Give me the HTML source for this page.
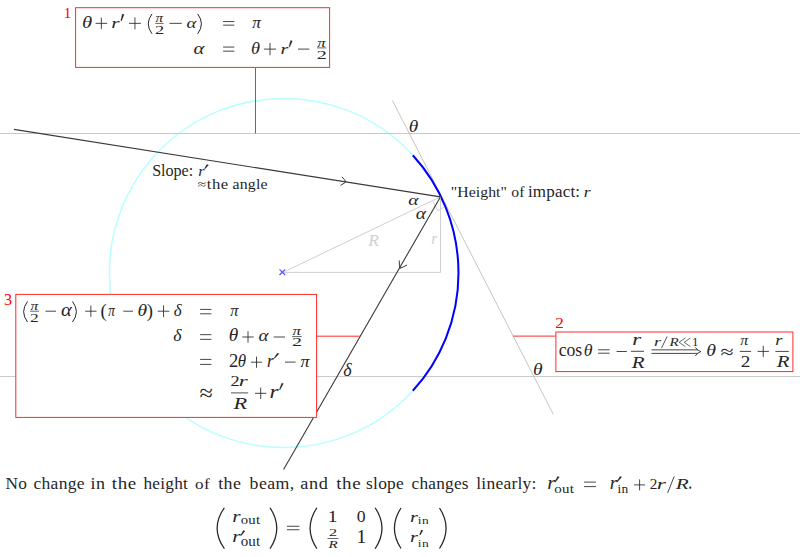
<!DOCTYPE html>
<html><head><meta charset="utf-8"><style>
html,body{margin:0;padding:0;background:#fff;width:800px;height:557px;overflow:hidden}
svg{display:block}
text{font-family:"Liberation Serif",serif;font-kerning:none}
</style></head><body>
<svg width="800" height="557" viewBox="0 0 800 557">
<circle cx="283.9" cy="273.0" r="174.6" fill="none" stroke="#b8ffff" stroke-width="1.5"/>
<line x1="0.00" y1="133.50" x2="800.00" y2="133.50" stroke="#cacaca" stroke-width="1" />
<line x1="0.00" y1="376.50" x2="800.00" y2="376.50" stroke="#cacaca" stroke-width="1" />
<line x1="392.30" y1="100.30" x2="553.40" y2="414.50" stroke="#bdbdbd" stroke-width="0.9" />
<path d="M412.83,155.27 A174.6,174.6 0 0 1 412.83,390.73" fill="none" stroke="#0000ff" stroke-width="2.0"/>
<line x1="283.00" y1="272.40" x2="440.40" y2="196.90" stroke="#c8c8c8" stroke-width="0.9" />
<line x1="440.50" y1="196.90" x2="440.50" y2="272.40" stroke="#c8c8c8" stroke-width="0.9" />
<line x1="283.00" y1="272.40" x2="440.50" y2="272.40" stroke="#c8c8c8" stroke-width="0.9" />
<polyline points="433.1,201.6 437.7,210.7 444.1,207.2" fill="none" stroke="#c8c8c8" stroke-width="0.8"/>
<line x1="279.50" y1="269.40" x2="285.10" y2="275.00" stroke="#5050ff" stroke-width="1.2" />
<line x1="279.50" y1="275.00" x2="285.10" y2="269.40" stroke="#5050ff" stroke-width="1.2" />
<line x1="14.00" y1="129.40" x2="440.40" y2="196.90" stroke="#3a3a3a" stroke-width="1.1" />
<line x1="440.40" y1="196.90" x2="283.60" y2="469.40" stroke="#3a3a3a" stroke-width="1.1" />
<path d="M340.58,185.33 Q344.66,183.14 345.8,181.8 Q345.13,180.17 341.93,176.83" fill="none" stroke="#222" stroke-width="0.9"/>
<path d="M399.24,260.50 Q399.26,266.32 400.0,268.2 Q401.99,267.89 407.04,264.98" fill="none" stroke="#222" stroke-width="0.9"/>
<rect x="75.6" y="7.7" width="254.00000000000003" height="59.7" fill="#fff" stroke="#ff2a2a" stroke-width="1"/>
<line x1="255.50" y1="67.40" x2="255.50" y2="133.50" stroke="#ff2a2a" stroke-width="1" />
<rect x="15.8" y="294.4" width="300.8" height="123.0" fill="#fff" stroke="#ff2a2a" stroke-width="1"/>
<line x1="316.80" y1="336.20" x2="359.90" y2="336.20" stroke="#ff2a2a" stroke-width="1" />
<rect x="555.9" y="332.0" width="237.0" height="39.60000000000002" fill="#fff" stroke="#ff2a2a" stroke-width="1"/>
<line x1="513.20" y1="336.10" x2="555.90" y2="336.10" stroke="#ff2a2a" stroke-width="1" />
<text transform="translate(63.60,17.50) scale(1.1054,1)" font-size="14.39" fill="#ff0000">1</text>
<text transform="translate(4.12,305.30) scale(0.9852,1)" font-size="16.46" fill="#ff0000">3</text>
<text transform="translate(555.14,327.60) scale(1.1629,1)" font-size="14.80" fill="#ff0000">2</text>
<text transform="translate(81.89,27.60) scale(1.2358,1)" font-size="16.80" font-style="italic" fill="#262626">θ</text>
<path d="M95.60,23.35H107.10M101.35,17.60V29.10" stroke="#262626" stroke-width="0.85" fill="none"/>
<text transform="translate(111.24,27.60) scale(1.4158,1)" font-size="15.07" font-style="italic" fill="#262626">r</text>
<path d="M122.40,14.10 L124.10,14.50 L121.45,20.90 L120.75,20.60 Z" fill="#262626" stroke="#262626" stroke-width="0.3"/>
<path d="M129.00,23.35H140.90M134.95,17.40V29.30" stroke="#262626" stroke-width="0.85" fill="none"/>
<path d="M152.00,13.90 Q144.56,23.85 152.00,33.80" fill="none" stroke="#262626" stroke-width="1.0"/>
<text transform="translate(155.42,22.30) scale(1.1852,1)" font-size="12.85" font-style="italic" fill="#262626">π</text>
<path d="M155.30,23.40H163.60" stroke="#262626" stroke-width="0.7" fill="none"/>
<text transform="translate(154.99,33.60) scale(1.6082,1)" font-size="11.48" fill="#262626">2</text>
<path d="M169.50,23.35H181.75" stroke="#262626" stroke-width="0.85" fill="none"/>
<text transform="translate(186.44,27.60) scale(1.2122,1)" font-size="15.48" font-style="italic" fill="#262626">α</text>
<path d="M197.70,13.90 Q205.14,23.85 197.70,33.80" fill="none" stroke="#262626" stroke-width="1.0"/>
<path d="M223.10,21.55H234.30M223.10,25.15H234.30" stroke="#262626" stroke-width="0.85" fill="none"/>
<text transform="translate(252.21,27.60) scale(1.0346,1)" font-size="16.78" font-style="italic" fill="#262626">π</text>
<text transform="translate(193.39,53.60) scale(1.2905,1)" font-size="15.90" font-style="italic" fill="#262626">α</text>
<path d="M223.10,47.05H234.30M223.10,51.15H234.30" stroke="#262626" stroke-width="0.85" fill="none"/>
<text transform="translate(250.90,53.60) scale(1.0534,1)" font-size="17.45" font-style="italic" fill="#262626">θ</text>
<path d="M263.90,49.10H276.10M270.00,43.00V55.20" stroke="#262626" stroke-width="0.85" fill="none"/>
<text transform="translate(280.58,53.60) scale(1.3403,1)" font-size="15.07" font-style="italic" fill="#262626">r</text>
<path d="M290.60,40.50 L292.30,40.90 L289.70,47.00 L289.00,46.70 Z" fill="#262626" stroke="#262626" stroke-width="0.3"/>
<path d="M298.00,49.10H309.40" stroke="#262626" stroke-width="0.85" fill="none"/>
<text transform="translate(317.16,46.80) scale(1.3127,1)" font-size="12.85" font-style="italic" fill="#262626">π</text>
<path d="M317.00,47.90H326.30" stroke="#262626" stroke-width="0.7" fill="none"/>
<text transform="translate(316.71,59.25) scale(1.7262,1)" font-size="11.71" fill="#262626">2</text>
<path d="M27.50,301.50 Q19.75,311.75 27.50,322.00" fill="none" stroke="#262626" stroke-width="1.0"/>
<text transform="translate(30.42,310.00) scale(1.2875,1)" font-size="11.98" font-style="italic" fill="#262626">π</text>
<path d="M30.00,311.20H39.00" stroke="#262626" stroke-width="0.7" fill="none"/>
<text transform="translate(30.03,321.50) scale(1.4452,1)" font-size="12.08" fill="#262626">2</text>
<path d="M45.50,311.20H56.00" stroke="#262626" stroke-width="0.85" fill="none"/>
<text transform="translate(60.89,316.20) scale(1.1125,1)" font-size="18.44" font-style="italic" fill="#262626">α</text>
<path d="M72.50,301.50 Q80.25,311.75 72.50,322.00" fill="none" stroke="#262626" stroke-width="1.0"/>
<path d="M85.20,311.20H96.50M90.85,305.55V316.85" stroke="#262626" stroke-width="0.85" fill="none"/>
<text transform="translate(100.48,316.53) scale(1.0270,1)" font-size="18.20" fill="#262626">(</text>
<text transform="translate(108.13,316.20) scale(0.8198,1)" font-size="16.23" font-style="italic" fill="#262626">π</text>
<path d="M123.30,311.20H133.00" stroke="#262626" stroke-width="0.85" fill="none"/>
<text transform="translate(137.54,316.20) scale(1.1798,1)" font-size="16.59" font-style="italic" fill="#262626">θ</text>
<text transform="translate(146.80,316.53) scale(1.0270,1)" font-size="18.20" fill="#262626">)</text>
<path d="M157.70,311.20H169.40M163.55,305.35V317.05" stroke="#262626" stroke-width="0.85" fill="none"/>
<text transform="translate(173.70,316.20) scale(0.9621,1)" font-size="17.60" font-style="italic" fill="#262626">δ</text>
<path d="M200.10,309.40H211.40M200.10,313.80H211.40" stroke="#262626" stroke-width="0.85" fill="none"/>
<text transform="translate(230.21,316.20) scale(0.9651,1)" font-size="16.89" font-style="italic" fill="#262626">π</text>
<text transform="translate(173.28,341.40) scale(1.0468,1)" font-size="17.03" font-style="italic" fill="#262626">δ</text>
<path d="M200.10,334.65H211.40M200.10,339.35H211.40" stroke="#262626" stroke-width="0.85" fill="none"/>
<text transform="translate(228.86,341.40) scale(1.0399,1)" font-size="18.59" font-style="italic" fill="#262626">θ</text>
<path d="M242.30,337.00H253.70M248.00,331.30V342.70" stroke="#262626" stroke-width="0.85" fill="none"/>
<text transform="translate(258.43,341.40) scale(1.1152,1)" font-size="17.17" font-style="italic" fill="#262626">α</text>
<path d="M273.70,337.00H285.00" stroke="#262626" stroke-width="0.85" fill="none"/>
<text transform="translate(292.41,335.30) scale(1.2875,1)" font-size="13.18" font-style="italic" fill="#262626">π</text>
<path d="M292.00,336.60H301.80" stroke="#262626" stroke-width="0.7" fill="none"/>
<text transform="translate(292.12,346.30) scale(1.6940,1)" font-size="11.78" fill="#262626">2</text>
<path d="M200.10,359.40H211.40M200.10,364.40H211.40" stroke="#262626" stroke-width="0.85" fill="none"/>
<text transform="translate(229.08,366.90) scale(1.0498,1)" font-size="17.82" fill="#262626">2</text>
<text transform="translate(237.67,366.90) scale(0.9480,1)" font-size="17.88" font-style="italic" fill="#262626">θ</text>
<path d="M250.90,362.20H262.10M256.50,356.60V367.80" stroke="#262626" stroke-width="0.85" fill="none"/>
<text transform="translate(267.11,366.90) scale(0.9573,1)" font-size="17.83" font-style="italic" fill="#262626">r</text>
<path d="M277.30,353.25 L279.00,353.65 L274.80,358.30 L274.10,358.00 Z" fill="#262626" stroke="#262626" stroke-width="0.3"/>
<path d="M285.00,362.10H295.60" stroke="#262626" stroke-width="0.85" fill="none"/>
<text transform="translate(300.40,366.90) scale(1.0272,1)" font-size="17.65" font-style="italic" fill="#262626">π</text>
<text transform="translate(199.42,401.35) scale(1.0077,1)" font-size="24.17" fill="#262626">≈</text>
<text transform="translate(230.59,386.40) scale(1.2515,1)" font-size="14.65" fill="#262626">2</text>
<text transform="translate(238.67,386.40) scale(1.4872,1)" font-size="15.49" font-style="italic" fill="#262626">r</text>
<path d="M231.00,392.90H248.20" stroke="#262626" stroke-width="0.8" fill="none"/>
<text transform="translate(233.62,408.70) scale(1.4070,1)" font-size="15.88" font-style="italic" fill="#262626">R</text>
<path d="M255.00,393.30H266.40M260.70,387.60V399.00" stroke="#262626" stroke-width="0.85" fill="none"/>
<text transform="translate(269.45,397.80) scale(1.2349,1)" font-size="18.89" font-style="italic" fill="#262626">r</text>
<path d="M281.70,383.20 L283.40,383.60 L280.10,389.70 L279.40,389.40 Z" fill="#262626" stroke="#262626" stroke-width="0.3"/>
<text transform="translate(558.67,355.50) scale(0.9849,1)" font-size="18.04" letter-spacing="-0.058" fill="#262626">cos</text>
<text transform="translate(583.73,355.50) scale(1.0885,1)" font-size="16.45" font-style="italic" fill="#262626">θ</text>
<path d="M598.10,349.80H609.60M598.10,353.20H609.60" stroke="#262626" stroke-width="0.85" fill="none"/>
<path d="M616.60,351.50H626.90" stroke="#262626" stroke-width="0.85" fill="none"/>
<text transform="translate(632.28,344.60) scale(1.3487,1)" font-size="16.87" font-style="italic" fill="#262626">r</text>
<path d="M630.90,351.30H644.00" stroke="#262626" stroke-width="0.85" fill="none"/>
<text transform="translate(631.71,367.50) scale(1.1862,1)" font-size="17.72" font-style="italic" fill="#262626">R</text>
<text transform="translate(654.02,345.50) scale(1.4185,1)" font-size="12.73" font-style="italic" fill="#262626">r</text>
<path d="M667.1,336.5 L661.5,348.1" stroke="#262626" stroke-width="0.8" fill="none"/>
<text transform="translate(669.48,345.50) scale(1.1913,1)" font-size="12.60" font-style="italic" fill="#262626">R</text>
<path d="M685.32,338.00 L679.10,342.30 L685.32,346.60 M690.40,338.00 L684.18,342.30 L690.40,346.60 " fill="none" stroke="#262626" stroke-width="0.7"/>
<text transform="translate(691.88,345.50) scale(1.0228,1)" font-size="12.50" fill="#262626">1</text>
<path d="M651.4,349.85 H698 M651.4,353.4 H698" stroke="#262626" stroke-width="0.85" fill="none"/>
<path d="M695.3,347.4 Q697.5,350.6 700.9,351.6 Q697.5,352.6 695.3,356" stroke="#262626" stroke-width="0.85" fill="none"/>
<text transform="translate(706.13,355.80) scale(1.2046,1)" font-size="16.45" font-style="italic" fill="#262626">θ</text>
<text transform="translate(720.43,357.63) scale(1.3359,1)" font-size="17.93" fill="#262626">≈</text>
<text transform="translate(740.31,344.90) scale(1.0275,1)" font-size="15.58" font-style="italic" fill="#262626">π</text>
<path d="M739.80,351.40H751.10" stroke="#262626" stroke-width="0.85" fill="none"/>
<text transform="translate(740.76,367.40) scale(1.1355,1)" font-size="16.92" fill="#262626">2</text>
<path d="M757.60,351.40H768.90M763.25,345.75V357.05" stroke="#262626" stroke-width="0.85" fill="none"/>
<text transform="translate(775.25,344.90) scale(1.3200,1)" font-size="14.01" font-style="italic" fill="#262626">r</text>
<path d="M775.40,351.40H788.80" stroke="#262626" stroke-width="0.85" fill="none"/>
<text transform="translate(776.71,367.40) scale(1.2188,1)" font-size="17.10" font-style="italic" fill="#262626">R</text>
<text transform="translate(152.17,175.50) scale(0.9828,1)" font-size="16.43" letter-spacing="-0.046" fill="#262626">Slope:</text>
<text transform="translate(198.14,175.50) scale(1.1072,1)" font-size="14.64" font-style="italic" fill="#262626">r</text>
<path d="M206.80,164.50 L208.50,164.90 L205.20,168.80 L204.50,168.50 Z" fill="#262626" stroke="#262626" stroke-width="0.3"/>
<text transform="translate(197.78,187.88) scale(1.3211,1)" font-size="11.41" fill="#262626">≈</text>
<text transform="translate(206.84,188.60) scale(1.1472,1)" font-size="14.56" letter-spacing="0.366" fill="#262626">the</text>
<text transform="translate(232.44,188.60) scale(1.0859,1)" font-size="14.56" letter-spacing="0.201" fill="#262626">angle</text>
<text transform="translate(450.82,197.40) scale(1.0294,1)" font-size="15.28" letter-spacing="0.071" fill="#262626">"Height"</text>
<text transform="translate(511.30,197.40) scale(1.0397,1)" font-size="15.05" letter-spacing="0.152" fill="#262626">of</text>
<text transform="translate(527.94,197.40) scale(1.0650,1)" font-size="16.01" letter-spacing="0.157" fill="#262626">impact:</text>
<text transform="translate(583.79,197.40) scale(1.2403,1)" font-size="14.22" font-style="italic" fill="#262626">r</text>
<text transform="translate(408.66,132.10) scale(1.1360,1)" font-size="17.02" font-style="italic" fill="#262626">θ</text>
<text transform="translate(532.94,375.30) scale(1.2111,1)" font-size="16.16" font-style="italic" fill="#262626">θ</text>
<text transform="translate(408.17,204.50) scale(1.3168,1)" font-size="14.84" font-style="italic" fill="#262626">α</text>
<text transform="translate(415.67,218.75) scale(1.2290,1)" font-size="15.90" font-style="italic" fill="#262626">α</text>
<text transform="translate(343.27,375.70) scale(1.0010,1)" font-size="18.03" font-style="italic" fill="#262626">δ</text>
<text transform="translate(368.29,245.70) scale(1.0147,1)" font-size="17.26" font-style="italic" fill="#d0d0d0">R</text>
<text transform="translate(431.37,243.75) scale(0.9829,1)" font-size="15.92" font-style="italic" fill="#d0d0d0">r</text>
<text transform="translate(5.60,488.90) scale(1.0287,1)" font-size="16.80" letter-spacing="0.180" fill="#262626">No</text>
<text transform="translate(33.43,488.90) scale(1.1057,1)" font-size="15.85" letter-spacing="0.279" fill="#262626">change</text>
<text transform="translate(90.62,488.90) scale(1.0839,1)" font-size="16.61" letter-spacing="0.318" fill="#262626">in</text>
<text transform="translate(111.81,488.90) scale(1.1984,1)" font-size="15.85" letter-spacing="0.515" fill="#262626">the</text>
<text transform="translate(143.48,488.90) scale(1.0899,1)" font-size="15.85" letter-spacing="0.217" fill="#262626">height</text>
<text transform="translate(194.95,488.90) scale(1.0955,1)" font-size="15.62" letter-spacing="0.361" fill="#262626">of</text>
<text transform="translate(218.23,488.90) scale(1.1280,1)" font-size="15.85" letter-spacing="0.353" fill="#262626">the</text>
<text transform="translate(249.60,488.90) scale(1.1227,1)" font-size="15.85" letter-spacing="0.340" fill="#262626">beam,</text>
<text transform="translate(300.36,488.90) scale(1.1511,1)" font-size="15.85" letter-spacing="0.484" fill="#262626">and</text>
<text transform="translate(336.21,488.90) scale(1.1984,1)" font-size="15.85" letter-spacing="0.515" fill="#262626">the</text>
<text transform="translate(366.04,488.90) scale(1.0973,1)" font-size="15.85" letter-spacing="0.238" fill="#262626">slope</text>
<text transform="translate(411.54,488.90) scale(1.0890,1)" font-size="15.85" letter-spacing="0.226" fill="#262626">changes</text>
<text transform="translate(476.25,488.90) scale(1.1051,1)" font-size="15.85" letter-spacing="0.203" fill="#262626">linearly:</text>
<text transform="translate(547.26,488.80) scale(1.1648,1)" font-size="17.83" font-style="italic" fill="#262626">r</text>
<path d="M557.60,476.50 L559.30,476.90 L555.50,482.10 L554.80,481.80 Z" fill="#262626" stroke="#262626" stroke-width="0.3"/>
<text transform="translate(554.23,492.80) scale(1.1215,1)" font-size="13.32" letter-spacing="0.297" fill="#262626">out</text>
<path d="M584.10,482.10H595.90M584.10,486.60H595.90" stroke="#262626" stroke-width="0.85" fill="none"/>
<text transform="translate(609.72,488.80) scale(1.0850,1)" font-size="17.83" font-style="italic" fill="#262626">r</text>
<path d="M620.00,476.50 L621.70,476.90 L617.40,482.10 L616.70,481.80 Z" fill="#262626" stroke="#262626" stroke-width="0.3"/>
<text transform="translate(617.52,492.80) scale(1.0550,1)" font-size="12.69" letter-spacing="0.164" fill="#262626">in</text>
<path d="M634.10,484.90H645.10M639.60,479.40V490.40" stroke="#262626" stroke-width="0.85" fill="none"/>
<text transform="translate(649.63,488.60) scale(1.0075,1)" font-size="15.10" fill="#262626">2</text>
<text transform="translate(656.74,488.60) scale(1.5892,1)" font-size="14.86" font-style="italic" fill="#262626">r</text>
<path d="M674.2,476.4 L667.6,493" stroke="#262626" stroke-width="0.85" fill="none"/>
<text transform="translate(675.81,488.60) scale(1.3869,1)" font-size="15.27" font-style="italic" fill="#262626">R</text>
<circle cx="690.3" cy="487.7" r="1.1" fill="#262626"/>
<path d="M224.40,507.75 Q209.83,528.25 224.40,548.75" fill="none" stroke="#262626" stroke-width="1.25"/>
<text transform="translate(232.24,521.90) scale(1.3403,1)" font-size="15.92" font-style="italic" fill="#262626">r</text>
<text transform="translate(240.69,524.40) scale(1.1055,1)" font-size="13.32" letter-spacing="0.261" fill="#262626">out</text>
<text transform="translate(232.24,541.90) scale(1.3403,1)" font-size="15.92" font-style="italic" fill="#262626">r</text>
<path d="M243.30,530.60 L245.00,531.00 L241.30,535.60 L240.60,535.30 Z" fill="#262626" stroke="#262626" stroke-width="0.3"/>
<text transform="translate(240.68,546.25) scale(1.0373,1)" font-size="14.48" letter-spacing="0.107" fill="#262626">out</text>
<path d="M270.00,507.75 Q283.56,528.25 270.00,548.75" fill="none" stroke="#262626" stroke-width="1.25"/>
<path d="M286.90,526.25H299.40M286.90,529.75H299.40" stroke="#262626" stroke-width="0.85" fill="none"/>
<path d="M316.90,507.75 Q303.26,528.25 316.90,548.75" fill="none" stroke="#262626" stroke-width="1.25"/>
<text transform="translate(327.69,521.90) scale(1.2061,1)" font-size="16.13" fill="#262626">1</text>
<text transform="translate(356.83,522.09) scale(1.0856,1)" font-size="16.30" fill="#262626">0</text>
<text transform="translate(329.04,535.60) scale(1.7316,1)" font-size="9.36" fill="#262626">2</text>
<path d="M327.50,538.50H338.50" stroke="#262626" stroke-width="0.7" fill="none"/>
<text transform="translate(328.58,547.50) scale(1.5725,1)" font-size="9.55" font-style="italic" fill="#262626">R</text>
<text transform="translate(356.38,542.50) scale(1.0873,1)" font-size="18.03" fill="#262626">1</text>
<path d="M375.10,507.75 Q388.89,528.25 375.10,548.75" fill="none" stroke="#262626" stroke-width="1.25"/>
<path d="M401.00,508.00 Q387.82,528.25 401.00,548.50" fill="none" stroke="#262626" stroke-width="1.25"/>
<text transform="translate(409.97,521.50) scale(1.3786,1)" font-size="14.86" font-style="italic" fill="#262626">r</text>
<text transform="translate(417.72,524.00) scale(1.1873,1)" font-size="11.33" letter-spacing="0.442" fill="#262626">in</text>
<text transform="translate(409.97,542.00) scale(1.3786,1)" font-size="14.86" font-style="italic" fill="#262626">r</text>
<path d="M421.30,530.00 L423.00,530.40 L420.20,535.00 L419.50,534.70 Z" fill="#262626" stroke="#262626" stroke-width="0.3"/>
<text transform="translate(417.72,546.50) scale(1.1873,1)" font-size="11.33" letter-spacing="0.442" fill="#262626">in</text>
<path d="M439.50,508.00 Q452.68,528.25 439.50,548.50" fill="none" stroke="#262626" stroke-width="1.25"/>
</svg></body></html>
